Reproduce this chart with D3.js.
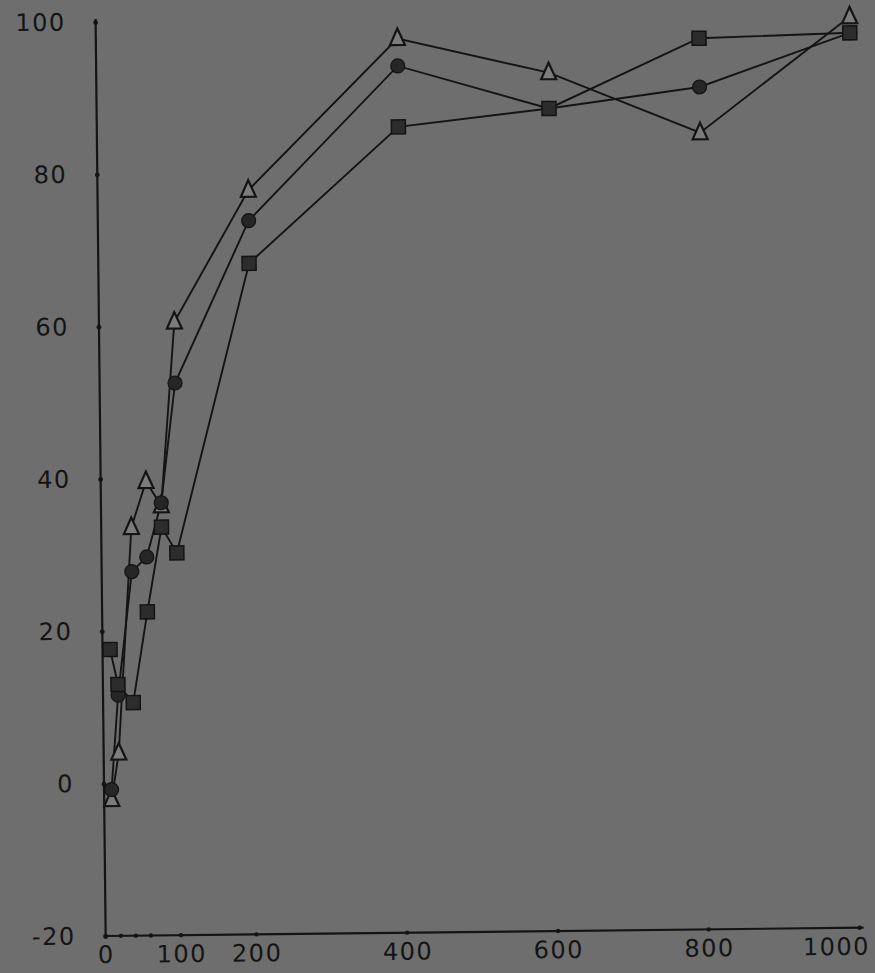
<!DOCTYPE html>
<html><head><meta charset="utf-8">
<script src="https://cdn.jsdelivr.net/npm/d3@7"></script>
<style>html,body{margin:0;padding:0;background:#6e6e6e;overflow:hidden}</style>
</head><body><svg id="c" width="875" height="973"></svg>
<script>
const xValues = [10, 20, 40, 60, 80, 100, 200, 400, 600, 800, 1000];
const triangleValues = [-2.1, 4.0, 33.6, 39.6, 36.4, 60.5, 77.7, 97.4, 92.7, 84.6, 99.6];
const circleValues = [-0.8, 11.6, 27.8, 29.7, 36.8, 52.5, 73.7, 93.8, 88.0, 90.6, 97.5];
const squareValues = [17.6, 13.0, 10.6, 22.5, 33.6, 30.2, 68.1, 85.8, 88.0, 97.0, 97.5];
const xTicks = [0, 100, 200, 400, 600, 800, 1000];
const yTicks = [-20, 0, 20, 40, 60, 80, 100];
const xDots = [0, 20, 40, 60, 100, 200, 400, 600, 800, 1000];

const ink = "#141414";
const bg = "#6e6e6e";
const svg = d3.select("#c");
svg.append("rect").attr("width", 875).attr("height", 973).attr("fill", bg);

const g = svg.append("g").attr("transform", "rotate(-0.63 104 784)");
const x = d3.scaleLinear().domain([0, 1000]).range([104, 858]);
const y = d3.scaleLinear().domain([-20, 100]).range([936, 22]);

const font = "'DejaVu Sans', sans-serif";

// Y axis
const yAxis = g.append("g").attr("transform", `translate(${x(0)},0)`)
  .call(d3.axisLeft(y).tickValues(yTicks).tickSize(0).tickSizeOuter(0).tickPadding(30).tickFormat(d3.format("d")));
yAxis.select(".domain").attr("stroke", ink).attr("stroke-width", 2.2)
  .attr("d", `M0,${y(-20)}V${y(100) - 3}`);
yAxis.selectAll("text").attr("fill", ink).attr("font-family", font).attr("font-size", 24)
  .attr("letter-spacing", 1.5).text(d => d < 0 ? "-" + Math.abs(d) : d);
yAxis.selectAll(".tick").append("circle").attr("r", 2.4).attr("fill", ink);

// X axis
const xAxis = g.append("g").attr("transform", `translate(0,${y(-20)})`)
  .call(d3.axisBottom(x).tickValues(xTicks).tickSize(0).tickSizeOuter(0).tickPadding(10).tickFormat(d3.format("d")));
xAxis.select(".domain").attr("stroke", ink).attr("stroke-width", 2.2)
  .attr("d", `M${x(0)},0H${x(1000) + 4}`);
xAxis.selectAll("text").attr("fill", ink).attr("font-family", font).attr("font-size", 24)
  .attr("letter-spacing", 1.5)
  .attr("dx", d => d === 1000 ? -24 : 0);
xAxis.selectAll(".xdot").data(xDots).enter().append("circle").attr("class", "xdot")
  .attr("cx", d => x(d)).attr("cy", 0).attr("r", 2.2).attr("fill", ink);

// Series
const series = [
  { name: "triangle", values: triangleValues },
  { name: "circle", values: circleValues },
  { name: "square", values: squareValues }
];
const line = d3.line().x(d => x(d[0])).y(d => y(d[1]));
series.forEach(s => {
  g.append("path").datum(xValues.map((v, i) => [v, s.values[i]]))
    .attr("d", line).attr("fill", "none").attr("stroke", ink).attr("stroke-width", 1.9);
});

// Markers
series.forEach(s => {
  const pts = xValues.map((v, i) => [v, s.values[i]]);
  const mg = g.append("g");
  if (s.name === "triangle") {
    mg.selectAll("path").data(pts).enter().append("path")
      .attr("d", "M0,-10L7.5,6.5L-7.5,6.5Z")
      .attr("transform", d => `translate(${x(d[0])},${y(d[1])})`)
      .attr("fill", "#7c7c7c").attr("stroke", ink).attr("stroke-width", 2.2).attr("stroke-linejoin", "miter");
  } else if (s.name === "circle") {
    mg.selectAll("circle").data(pts).enter().append("circle")
      .attr("cx", d => x(d[0])).attr("cy", d => y(d[1])).attr("r", 7)
      .attr("fill", "#262626").attr("stroke", ink).attr("stroke-width", 1.2);
  } else {
    mg.selectAll("rect").data(pts).enter().append("rect")
      .attr("x", d => x(d[0]) - 7).attr("y", d => y(d[1]) - 7)
      .attr("width", 14).attr("height", 14)
      .attr("fill", "#2c2c2c").attr("stroke", ink).attr("stroke-width", 1.5);
  }
});
</script></body></html>
